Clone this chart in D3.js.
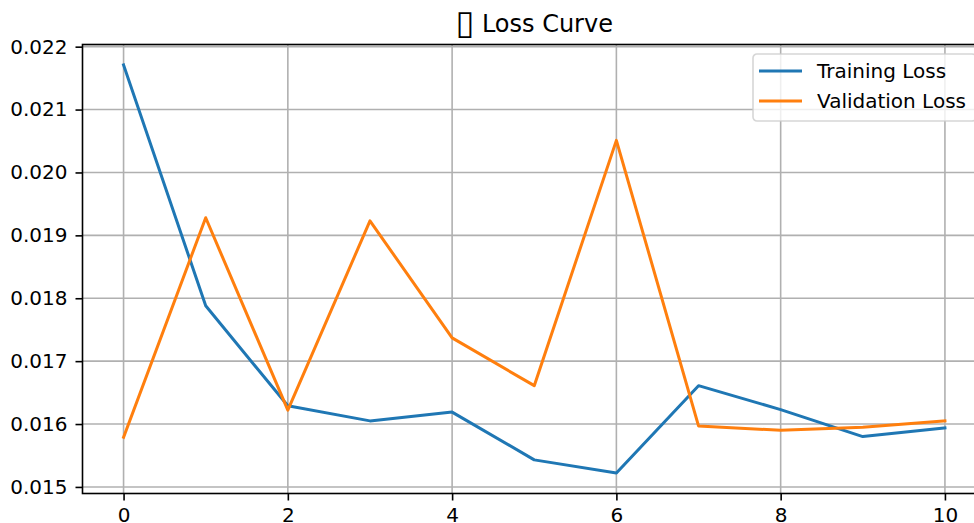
<!DOCTYPE html>
<html>
<head>
<meta charset="utf-8">
<script src="https://cdn.jsdelivr.net/npm/d3@7"></script>
<style>
  body { margin: 0; background: #fff; }
  svg { display: block; font-family: "DejaVu Sans", sans-serif; }
</style>
</head>
<body>
<div id="chart"></div>
<script>
// chart data
let epochs = [0, 1, 2, 3, 4, 5, 6, 7, 8, 9, 10];
let trainLoss = [0.02171, 0.01788, 0.01629, 0.01605, 0.01619, 0.01543, 0.01522, 0.01661, 0.01623, 0.01580, 0.01594];
let valLoss = [0.01579, 0.01928, 0.01622, 0.01923, 0.01737, 0.01661, 0.02051, 0.01597, 0.01590, 0.01595, 0.01605];
let xTicks = [0, 2, 4, 6, 8, 10];
let yTicks = [0.015, 0.016, 0.017, 0.018, 0.019, 0.020, 0.021, 0.022];
let seriesNames = ["Training Loss", "Validation Loss"];
let seriesColors = ["#1f77b4", "#ff7f0e"];
// the reference shows the title emoji as a missing-glyph box
let titleIcon = "\u25AF";
let titleText = " Loss Curve";

// set svg width and height
let svgWidth = 974;
let svgHeight = 523;

// plot area (axes box runs past the right edge, like the reference)
let margin = { top: 44.5, left: 82.5 };
let width = 986 - margin.left;
let height = 493.5 - margin.top;
let fontSize = 20;

let svg = d3.select("#chart")
  .append("svg")
  .attr("width", svgWidth)
  .attr("height", svgHeight);

let g = svg.append("g")
  .attr("transform", `translate(${margin.left}, ${margin.top})`);

// scales with matplotlib-style 5% padding
let allVals = trainLoss.concat(valLoss);
let yMin = d3.min(allVals), yMax = d3.max(allVals);
let yPad = (yMax - yMin) * 0.05;

let x = d3.scaleLinear()
  .domain([-0.5, 10.5])
  .range([0, width]);

let y = d3.scaleLinear()
  .domain([yMin - yPad, yMax + yPad])
  .range([height, 0]);

// grid lines
g.append("g")
  .selectAll("line")
  .data(xTicks)
  .enter()
  .append("line")
  .attr("x1", d => x(d)).attr("x2", d => x(d))
  .attr("y1", 0).attr("y2", height)
  .attr("stroke", "#b0b0b0")
  .attr("stroke-width", 1.6);

g.append("g")
  .selectAll("line")
  .data(yTicks)
  .enter()
  .append("line")
  .attr("x1", 0).attr("x2", width)
  .attr("y1", d => y(d)).attr("y2", d => y(d))
  .attr("stroke", "#b0b0b0")
  .attr("stroke-width", 1.6);

// lines
let line = d3.line()
  .x((d, i) => x(epochs[i]))
  .y(d => y(d));

[trainLoss, valLoss].forEach(function(vals, k) {
  g.append("path")
    .datum(vals)
    .attr("fill", "none")
    .attr("stroke", seriesColors[k])
    .attr("stroke-width", 3)
    .attr("stroke-linejoin", "round")
    .attr("stroke-linecap", "square")
    .attr("d", line);
});

// spines
g.append("rect")
  .attr("x", 0).attr("y", 0)
  .attr("width", width).attr("height", height)
  .attr("fill", "none")
  .attr("stroke", "#000")
  .attr("stroke-width", 1.6);

// axes
let bottomAxis = d3.axisBottom(x)
  .tickValues(xTicks)
  .tickSize(7)
  .tickPadding(7)
  .tickFormat(d3.format("d"));

let leftAxis = d3.axisLeft(y)
  .tickValues(yTicks)
  .tickSize(7)
  .tickPadding(8)
  .tickFormat(d3.format(".3f"));

let xAxisG = g.append("g")
  .attr("transform", `translate(0, ${height})`)
  .call(bottomAxis);

let yAxisG = g.append("g")
  .call(leftAxis);

[xAxisG, yAxisG].forEach(function(a) {
  a.attr("font-family", "DejaVu Sans").attr("font-size", fontSize);
  a.select(".domain").remove();
  a.selectAll(".tick line").attr("stroke", "#000").attr("stroke-width", 1.6);
  a.selectAll(".tick text").attr("fill", "#000");
});

// title
let title = svg.append("text")
  .attr("x", margin.left + width / 2)
  .attr("y", 32)
  .attr("text-anchor", "middle")
  .attr("font-size", 24)
  .attr("fill", "#000");

title.append("tspan")
  .attr("font-size", 34)
  .attr("dy", 2)
  .text(titleIcon);

title.append("tspan")
  .attr("dy", -2)
  .text(titleText);

// legend
let legend = svg.append("g")
  .attr("transform", "translate(753, 54)");

legend.append("rect")
  .attr("width", 223)
  .attr("height", 67)
  .attr("rx", 4)
  .attr("fill", "#fff")
  .attr("fill-opacity", 0.8)
  .attr("stroke", "#cccccc")
  .attr("stroke-opacity", 0.8)
  .attr("stroke-width", 1.6);

let items = legend.selectAll("g.item")
  .data(seriesNames)
  .enter()
  .append("g")
  .attr("transform", (d, i) => `translate(0, ${17 + i * 30})`);

items.append("line")
  .attr("x1", 6).attr("x2", 49)
  .attr("stroke", (d, i) => seriesColors[i])
  .attr("stroke-width", 3);

items.append("text")
  .attr("x", 64)
  .attr("dy", "0.36em")
  .attr("font-size", fontSize)
  .attr("fill", "#000")
  .text(d => d);
</script>
</body>
</html>
